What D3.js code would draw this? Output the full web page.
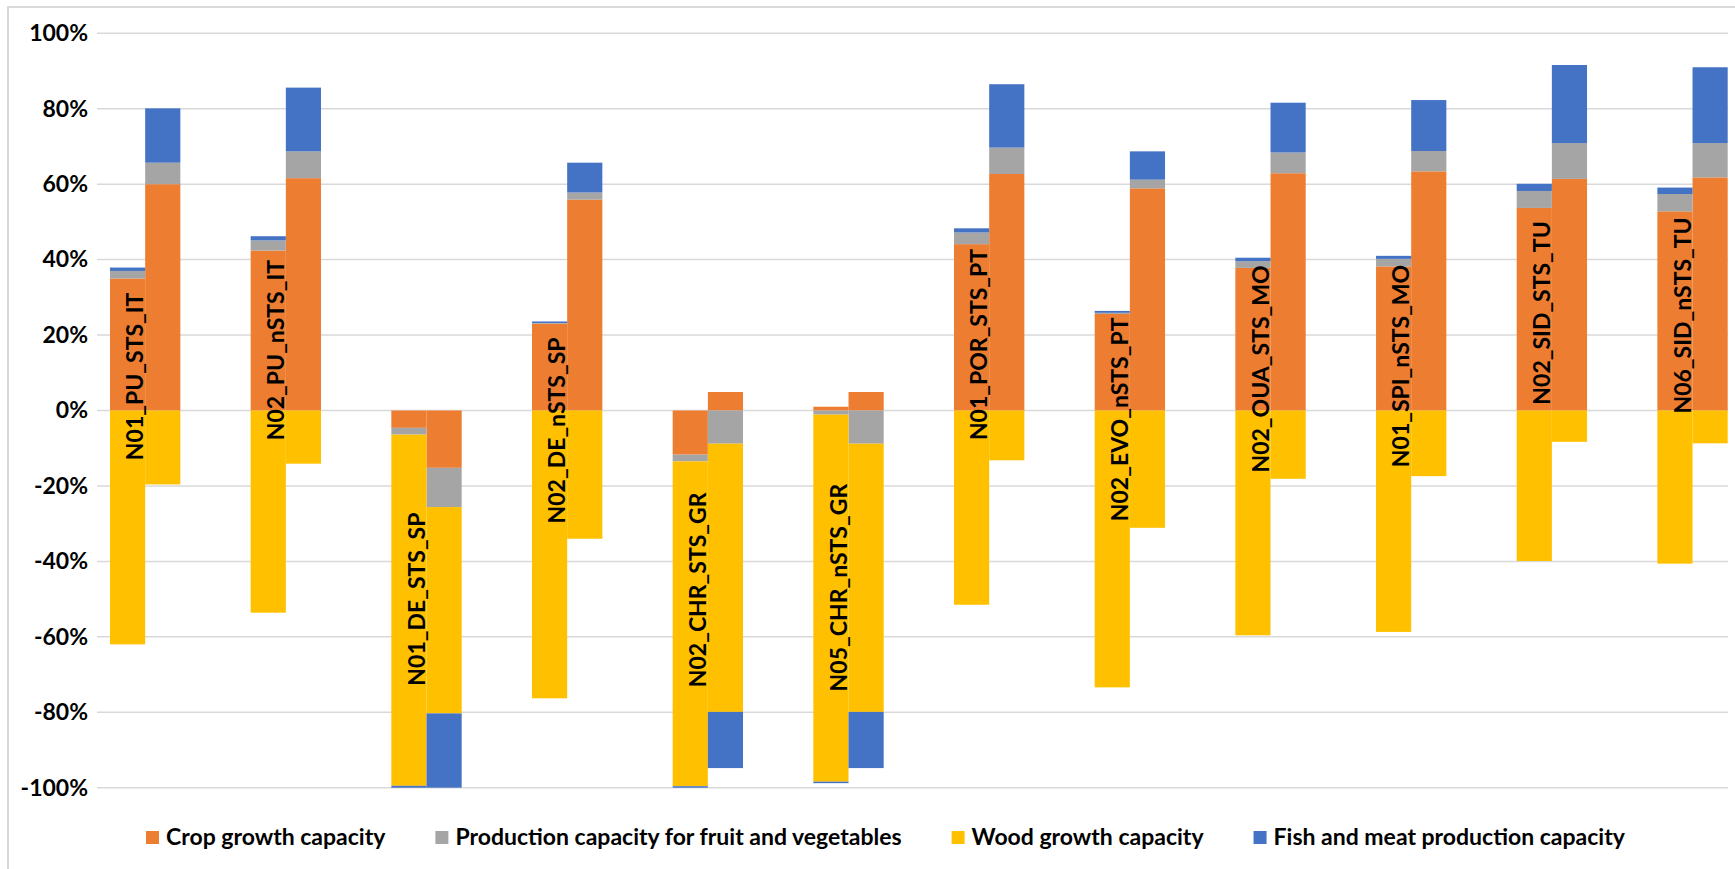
<!DOCTYPE html>
<html>
<head>
<meta charset="utf-8">
<script src="https://cdn.jsdelivr.net/npm/d3@7"></script>
<style>
  html, body { margin: 0; padding: 0; background: #fff; }
  svg { display: block; }
  text { font-family: Lato, "Open Sans", sans-serif; font-weight: 700; }
</style>
</head>
<body>
<svg id="chart" width="1735" height="869"></svg>
<script>
// Sites (one pair of bars per site)
const categories = [
  "N01_PU_STS_IT", "N02_PU_nSTS_IT", "N01_DE_STS_SP", "N02_DE_nSTS_SP",
  "N02_CHR_STS_GR", "N05_CHR_nSTS_GR", "N01_POR_STS_PT", "N02_EVO_nSTS_PT",
  "N02_OUA_STS_MO", "N01_SPI_nSTS_MO", "N02_SID_STS_TU", "N06_SID_nSTS_TU"
];

const seriesNames = [
  "Crop growth capacity",
  "Production capacity for fruit and vegetables",
  "Wood growth capacity",
  "Fish and meat production capacity"
];
const seriesColors = ["#ED7D31", "#A5A5A5", "#FFC000", "#4472C4"];

// Left bar of each pair (%)
const cropLeft  = [35.0, 42.4, -4.6, 23.0, -11.7, 1.0, 44.1, 25.6, 37.8, 38.2, 53.7, 52.8];
const fruitLeft = [2.0, 2.7, -1.8, 0.2, -1.8, -1.1, 3.1, 0.3, 1.8, 2.0, 4.5, 4.6];
const woodLeft  = [-62.0, -53.6, -93.1, -76.3, -86.1, -97.3, -51.5, -73.4, -59.6, -58.7, -39.9, -40.6];
const fishLeft  = [0.9, 1.1, -0.5, 0.4, -0.4, -0.4, 1.1, 0.5, 0.9, 0.8, 1.9, 1.7];

// Right bar of each pair (%)
const cropRight  = [60.0, 61.6, -15.2, 55.9, 4.9, 4.9, 62.7, 58.9, 62.9, 63.4, 61.4, 61.8];
const fruitRight = [5.7, 7.1, -10.4, 1.9, -8.8, -8.8, 7.0, 2.3, 5.5, 5.4, 9.5, 9.1];
const woodRight  = [-19.6, -14.1, -54.7, -34.0, -71.1, -71.1, -13.2, -31.1, -18.1, -17.4, -8.3, -8.7];
const fishRight  = [14.4, 16.9, -19.7, 7.9, -14.9, -14.9, 16.8, 7.5, 13.2, 13.5, 20.7, 20.1];

const yTicks = [-100, -80, -60, -40, -20, 0, 20, 40, 60, 80, 100];

// Build one row per bar; "side" 0 = left, 1 = right
const keys = ["crop", "fruit", "wood", "fish"];
const rows = [];
categories.forEach((c, i) => {
  rows.push({ cat: c, side: 0, crop: cropLeft[i], fruit: fruitLeft[i], wood: woodLeft[i], fish: fishLeft[i] });
  rows.push({ cat: c, side: 1, crop: cropRight[i], fruit: fruitRight[i], wood: woodRight[i], fish: fishRight[i] });
});

const stacked = d3.stack().keys(keys).offset(d3.stackOffsetDiverging)(rows);

const svg = d3.select("#chart");
const FONT = 23;

// Chart frame
svg.append("rect")
  .attr("x", 8).attr("y", 7).attr("width", 1740).attr("height", 880)
  .attr("fill", "#fff").attr("stroke", "#D9D9D9").attr("stroke-width", 2);

const plot = { left: 97, right: 1728, top: 33.3, bottom: 787.7 };

const y = d3.scaleLinear().domain([-100, 100]).range([plot.bottom, plot.top]);
const x = d3.scaleBand().domain(categories).range([110, 1727.7]).paddingInner(0.5);
const half = x.bandwidth() / 2;

// Gridlines
svg.append("g").selectAll("line").data(yTicks).join("line")
  .attr("x1", plot.left).attr("x2", plot.right)
  .attr("y1", d => y(d)).attr("y2", d => y(d))
  .attr("stroke", "#D9D9D9").attr("stroke-width", 1.5);

// Y axis labels
const yAxis = d3.axisLeft(y).tickValues(yTicks).tickFormat(d => d + "%").tickSize(0).tickPadding(0);
const gy = svg.append("g").attr("transform", "translate(88,0)").call(yAxis);
gy.select(".domain").remove();
gy.selectAll("text").attr("font-size", FONT).attr("fill", "#000")
  .style("font-family", "Lato, sans-serif").style("font-weight", 700);

// Bars
svg.append("g").selectAll("g").data(stacked).join("g")
  .attr("fill", (d, i) => seriesColors[i])
  .selectAll("rect").data(d => d).join("rect")
  .attr("x", d => x(d.data.cat) + d.data.side * half)
  .attr("width", half)
  .attr("y", d => y(Math.max(d[0], d[1])))
  .attr("height", d => Math.abs(y(d[0]) - y(d[1])));

// Site labels, centred on the full vertical extent of each pair
const extent = categories.map(c => {
  let lo = 0, hi = 0;
  stacked.forEach(s => s.forEach(p => {
    if (p.data.cat === c) { lo = Math.min(lo, p[0], p[1]); hi = Math.max(hi, p[0], p[1]); }
  }));
  return [lo, hi];
});
svg.append("g").selectAll("text").data(categories).join("text")
  .attr("transform", (c, i) => `translate(${x(c) + half - 11},${y((extent[i][0] + extent[i][1]) / 2)}) rotate(-90)`)
  .attr("text-anchor", "middle").attr("dominant-baseline", "central")
  .attr("font-size", FONT).attr("fill", "#000")
  .text(c => c);

// Legend
const legend = svg.append("g").attr("transform", "translate(146,0)");
let lx = 0;
seriesNames.forEach((name, i) => {
  const g = legend.append("g").attr("transform", `translate(${lx},0)`);
  g.append("rect").attr("x", 0).attr("y", 831).attr("width", 13).attr("height", 13).attr("fill", seriesColors[i]);
  const t = g.append("text").attr("x", 20).attr("y", 845).attr("font-size", FONT).attr("fill", "#000").text(name);
  lx += 20 + t.node().getComputedTextLength() + 50;
});
</script>
</body>
</html>
